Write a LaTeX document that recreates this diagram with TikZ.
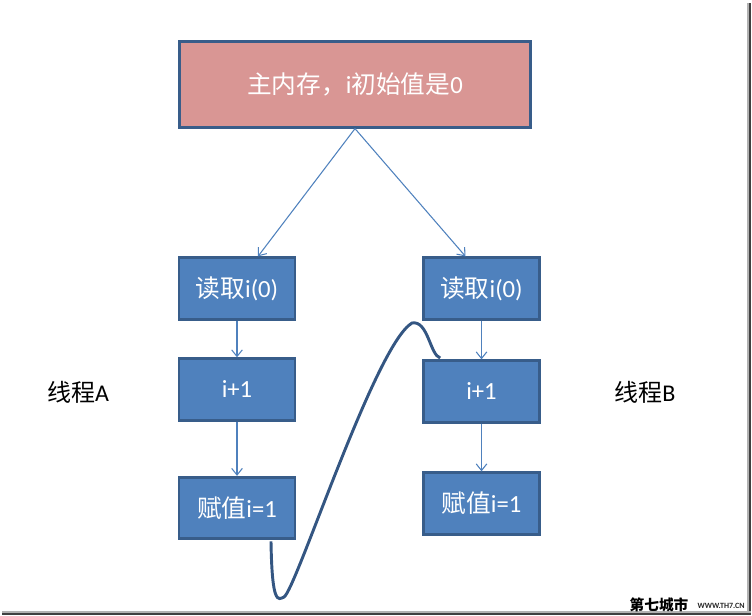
\documentclass[tikz,border=0pt]{standalone}
\usepackage{fontspec}
\setmainfont{Carlito}
\newfontfamily\cjk{Noto Sans CJK SC}
\usetikzlibrary{arrows.meta,positioning}
\definecolor{boxblue}{RGB}{79,129,189}
\definecolor{edgeblue}{RGB}{56,93,138}
\definecolor{mempink}{RGB}{217,150,148}
\definecolor{curveblue}{RGB}{52,86,130}

\tikzset{
  stepnode/.style={draw=edgeblue,line width=2.2pt,fill=boxblue,text=white,
    minimum width=87pt,minimum height=46pt,inner sep=0pt,font=\fontsize{18.5}{22}\selectfont},
  flow/.style={boxblue,line width=0.8pt,-{Straight Barb[length=5pt,width=8pt]}},
  thread/.style={font=\fontsize{18}{22}\selectfont}
}

\begin{document}
\begin{tikzpicture}[x=0.75pt,y=-0.75pt]
\useasboundingbox (0,0) rectangle (752,616);
% frame shadow
\fill[black!30] (747,3) rectangle (748.5,613);
\fill[black!75] (748.5,3) rectangle (751,613);
\fill[black!30] (2,611) rectangle (751,612.5);
\fill[black!75] (2,612.5) rectangle (751,615);

% main memory
\node[stepnode,fill=mempink,minimum width=263pt,minimum height=64pt] (main) at (355,84.5)
  {{\cjk 主内存，}i{\cjk 初始值是}0};

% thread A
\node[stepnode] (a1) at (237,288.5) {{\cjk 读取}i(0)};
\node[stepnode] (a2) at (237,389.5) {i+1};
\node[stepnode] (a3) at (237,508) {{\cjk 赋值}i=1};
% thread B
\node[stepnode] (b1) at (481.5,288.5) {{\cjk 读取}i(0)};
\node[stepnode] (b2) at (481.5,391.5) {i+1};
\node[stepnode] (b3) at (481.5,503.5) {{\cjk 赋值}i=1};

\node[thread] (ta) at (78,392) {{\cjk 线程}A};
\node[thread] (tb) at (645,392) {{\cjk 线程}B};

\draw[flow] (main.south) -- ([xshift=15.75pt]a1.north);
\draw[flow] (main.south) -- ([xshift=-12pt]b1.north);
\draw[flow] (a1) -- (a2);
\draw[flow] (a2) -- (a3);
\draw[flow] (b1) -- (b2);
\draw[flow] (b2) -- (b3);

% lost update
\coordinate (lo) at (284,597);
\coordinate (hi) at (412,323);
\draw[curveblue,line width=2.2pt]
  ([xshift=25.5pt,yshift=-1pt]a3.south) .. controls (272,605) and (278,600) .. (lo)
  .. controls (296,590) and (375,345) .. (hi)
  .. controls (428,320) and (430,355) .. ([xshift=-31pt,yshift=1pt]b2.north);

% watermark
\node[font=\cjk\bfseries\fontsize{11}{12}\selectfont,inner sep=0pt] (wm) at (659,605) {第七城市};
\node[font=\bfseries\fontsize{6}{7}\selectfont,black!85,anchor=east,inner sep=0pt] (url) at (745,606) {WWW.TH7.CN};
\end{tikzpicture}
\end{document}
